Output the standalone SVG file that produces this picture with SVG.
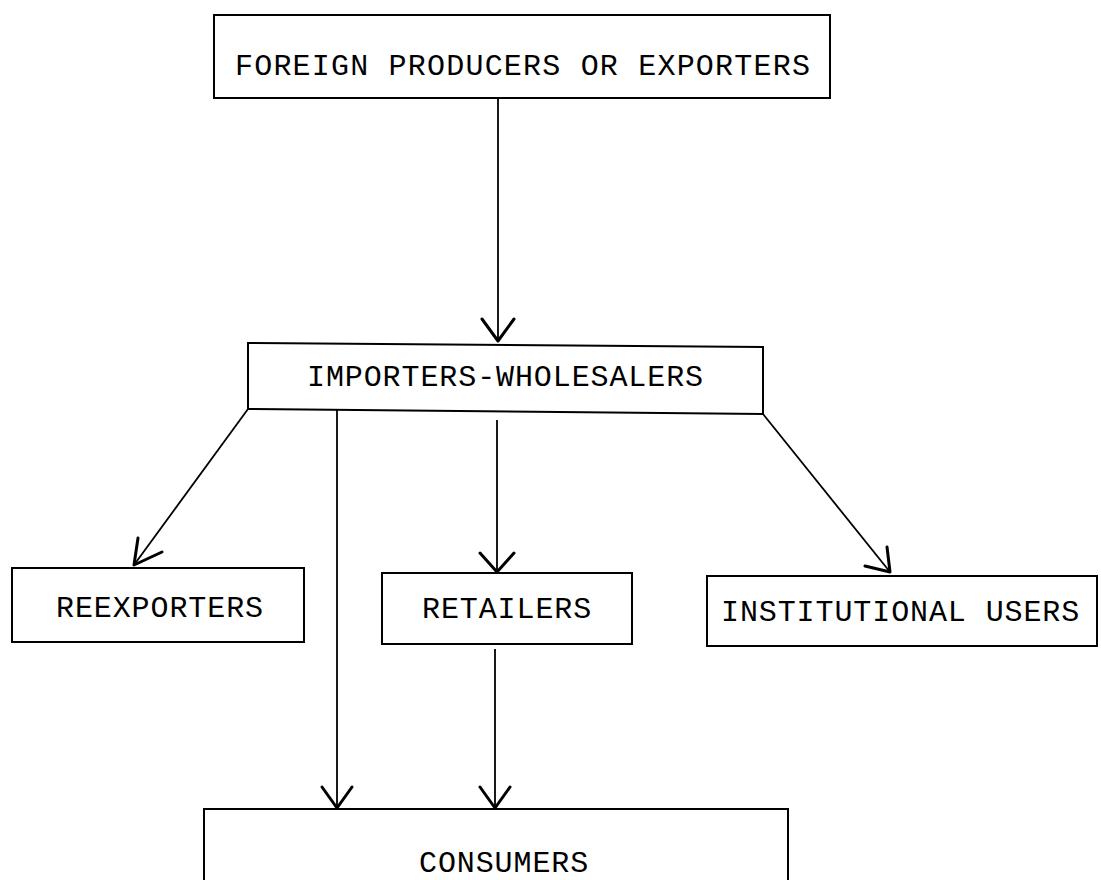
<svg xmlns="http://www.w3.org/2000/svg" width="1101" height="880" viewBox="0 0 1101 880">
<style>
.box{fill:none;stroke:#000;stroke-width:2}
.lbl{font-family:"Liberation Mono","Courier New",monospace;font-size:30px;fill:#000;letter-spacing:0.9px}
.ln{fill:none;stroke:#000;stroke-width:1.8}
.hd{fill:none;stroke:#000;stroke-width:3;stroke-linecap:round;stroke-linejoin:round}
</style>
<rect width="1101" height="880" fill="#fff"/>
<g id="node-foreign">
<rect class="box" x="214" y="15" width="616" height="83"/>
<text class="lbl" x="235" y="75" style="letter-spacing:1.2px">FOREIGN PRODUCERS OR EXPORTERS</text>
</g>
<g id="node-importers">
<polygon class="box" points="248,343 763,347 763,414 248,409"/>
<text class="lbl" x="307" y="386">IMPORTERS-WHOLESALERS</text>
</g>
<g id="node-reexporters">
<rect class="box" x="12" y="568" width="292" height="74"/>
<text class="lbl" x="56" y="617">REEXPORTERS</text>
</g>
<g id="node-retailers">
<rect class="box" x="382" y="573" width="250" height="71"/>
<text class="lbl" x="422" y="618">RETAILERS</text>
</g>
<g id="node-institutional">
<rect class="box" x="707" y="576" width="390" height="70"/>
<text class="lbl" x="721" y="621">INSTITUTIONAL USERS</text>
</g>
<g id="node-consumers">
<path class="box" d="M204,890 V809 H788 V890"/>
<text class="lbl" x="419" y="872">CONSUMERS</text>
</g>
<g id="connectors">
<line class="ln" x1="498" y1="98" x2="498" y2="341"/>
<polyline class="hd" points="482,319 498,341 514,319"/>
<line class="ln" x1="248" y1="409" x2="134" y2="565"/>
<polyline class="hd" points="138,538 134,565 162,552"/>
<line class="ln" x1="337" y1="409" x2="337" y2="808"/>
<polyline class="hd" points="322,787 337,808 352,787"/>
<line class="ln" x1="497" y1="420" x2="497" y2="572"/>
<polyline class="hd" points="480,553 497,572 514,553"/>
<line class="ln" x1="763" y1="414" x2="890" y2="572"/>
<polyline class="hd" points="887,547 890,572 865,566"/>
<line class="ln" x1="495" y1="649" x2="495" y2="808"/>
<polyline class="hd" points="480,787 495,808 510,787"/>
</g>
</svg>
